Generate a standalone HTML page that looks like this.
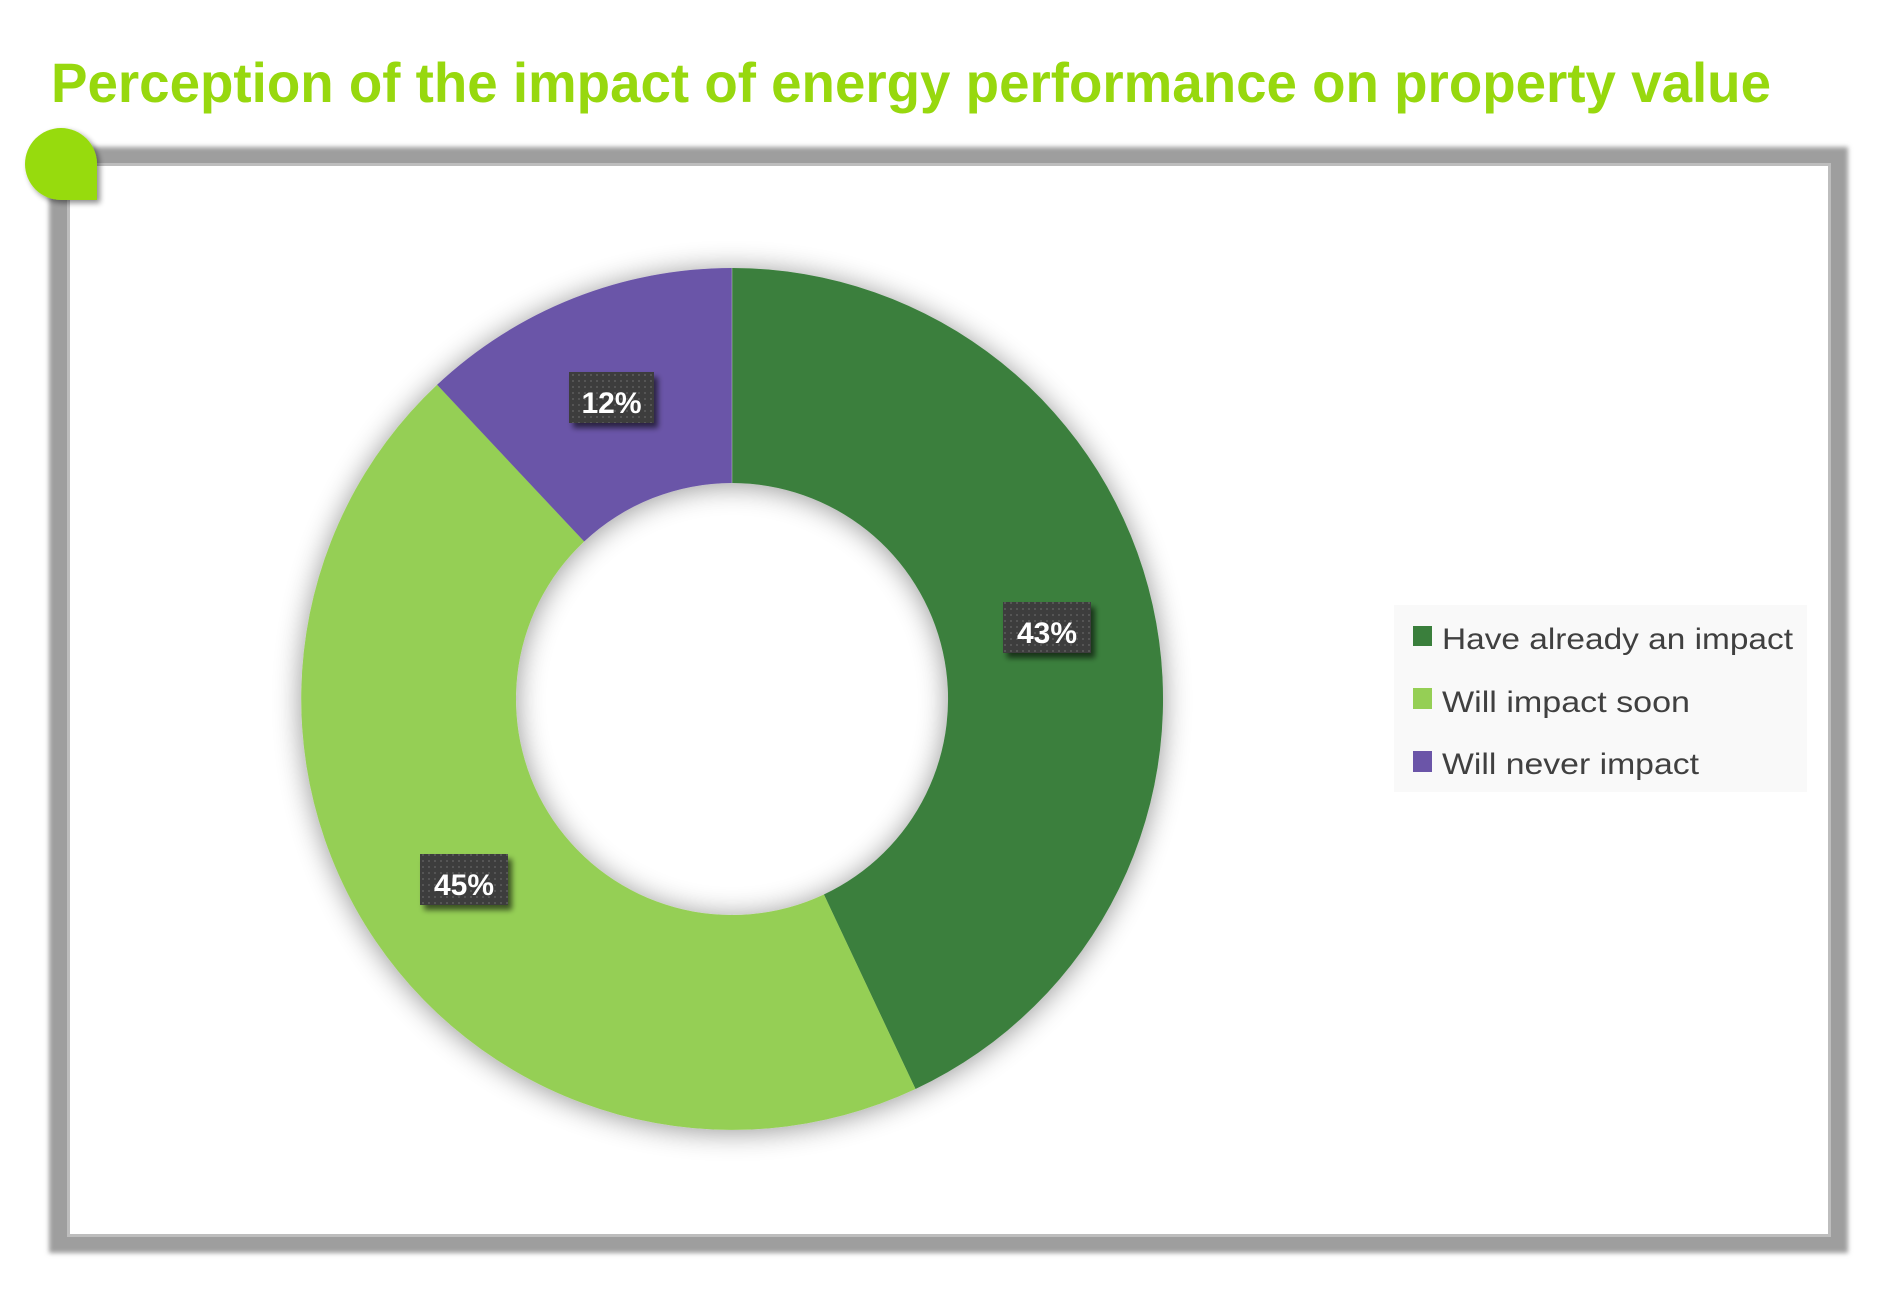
<!DOCTYPE html>
<html>
<head>
<meta charset="utf-8">
<style>
  html, body { margin: 0; padding: 0; background: #ffffff; }
  body { width: 1900px; height: 1296px; overflow: hidden; }
  svg { display: block; }
</style>
</head>
<body>
<svg width="1900" height="1296" viewBox="0 0 1900 1296" xmlns="http://www.w3.org/2000/svg">
  <defs>
    <filter id="frameBlur" x="-5%" y="-5%" width="110%" height="110%">
      <feGaussianBlur stdDeviation="2.5"/>
    </filter>
    <filter id="ringShadow" x="-20%" y="-20%" width="140%" height="140%">
      <feGaussianBlur in="SourceAlpha" stdDeviation="14" result="b"/>
      <feOffset in="b" dx="0" dy="2" result="o"/>
      <feComponentTransfer in="o" result="s">
        <feFuncA type="linear" slope="0.42"/>
      </feComponentTransfer>
      <feMerge>
        <feMergeNode in="s"/>
        <feMergeNode in="SourceGraphic"/>
      </feMerge>
    </filter>
    <filter id="boxShadow" x="-30%" y="-30%" width="160%" height="160%">
      <feGaussianBlur in="SourceAlpha" stdDeviation="3" result="b"/>
      <feOffset in="b" dx="4" dy="5" result="o"/>
      <feComponentTransfer in="o" result="s">
        <feFuncA type="linear" slope="0.6"/>
      </feComponentTransfer>
      <feMerge>
        <feMergeNode in="s"/>
        <feMergeNode in="SourceGraphic"/>
      </feMerge>
    </filter>
    <filter id="blobShadow" x="-30%" y="-30%" width="160%" height="160%">
      <feGaussianBlur in="SourceAlpha" stdDeviation="3" result="b"/>
      <feOffset in="b" dx="3" dy="3" result="o"/>
      <feComponentTransfer in="o" result="s">
        <feFuncA type="linear" slope="0.45"/>
      </feComponentTransfer>
      <feMerge>
        <feMergeNode in="s"/>
        <feMergeNode in="SourceGraphic"/>
      </feMerge>
    </filter>
    <pattern id="dots" width="6" height="6" patternUnits="userSpaceOnUse">
      <rect width="6" height="6" fill="#3e3e3e"/>
      <rect x="2" y="2" width="2" height="2" fill="#545454"/>
    </pattern>
  </defs>

  <!-- Title -->
  <text x="51" y="102" font-family="'Liberation Sans', Arial, sans-serif" font-weight="bold" font-size="56" fill="#97d80e" textLength="1720" lengthAdjust="spacingAndGlyphs">Perception of the impact of energy performance on property value</text>

  <!-- Frame -->
  <rect x="49" y="147" width="1799" height="1106" fill="#9e9e9e" filter="url(#frameBlur)"/>
  <rect x="67" y="163" width="1764" height="1074" fill="#bdbdbd"/>
  <rect x="70" y="166" width="1758" height="1068" fill="#ffffff"/>

  <!-- Green corner blob -->
  <path d="M25,164 A36,36 0 0 1 97,164 L97,200 L61,200 A36,36 0 0 1 25,164 Z" fill="#97db0b" filter="url(#blobShadow)"/>

  <!-- Donut -->
  <g filter="url(#ringShadow)">
    <path d="M732,268 A431,431 0 0 1 915.5,1089.0 L823.9,894.5 A216,216 0 0 0 732,483 Z" fill="#3a7f3c"/>
    <path d="M915.5,1089.0 A431,431 0 0 1 437.1,384.8 L584.2,541.5 A216,216 0 0 0 823.9,894.5 Z" fill="#95cf55"/>
    <path d="M437.1,384.8 A431,431 0 0 1 732,268 L732,483 A216,216 0 0 0 584.2,541.5 Z" fill="#6b55a8"/>
  </g>
  <line x1="732" y1="268" x2="732" y2="483" stroke="#c9c9c9" stroke-width="0.8" opacity="0.6"/>

  <!-- Data labels -->
  <g filter="url(#boxShadow)">
    <rect x="569" y="372" width="85" height="51" fill="url(#dots)"/>
    <rect x="1003" y="602" width="88" height="51" fill="url(#dots)"/>
    <rect x="420" y="854" width="88" height="51" fill="url(#dots)"/>
  </g>
  <g font-family="'Liberation Sans', Arial, sans-serif" font-weight="bold" font-size="30" fill="#ffffff" text-anchor="middle">
    <text x="611.5" y="413">12%</text>
    <text x="1047" y="643">43%</text>
    <text x="464" y="895">45%</text>
  </g>

  <!-- Legend -->
  <rect x="1394" y="605" width="413" height="187" fill="#f9f9f9"/>
  <rect x="1413" y="626" width="19" height="20" fill="#3a7f3c"/>
  <rect x="1413" y="688" width="19" height="21" fill="#95cf55"/>
  <rect x="1413" y="751" width="19" height="21" fill="#6b55a8"/>
  <g font-family="'Liberation Sans', Arial, sans-serif" font-size="30" fill="#404040">
    <text x="1442" y="649" textLength="351" lengthAdjust="spacingAndGlyphs">Have already an impact</text>
    <text x="1442" y="712" textLength="248" lengthAdjust="spacingAndGlyphs">Will impact soon</text>
    <text x="1442" y="774" textLength="257" lengthAdjust="spacingAndGlyphs">Will never impact</text>
  </g>
</svg>
</body>
</html>
